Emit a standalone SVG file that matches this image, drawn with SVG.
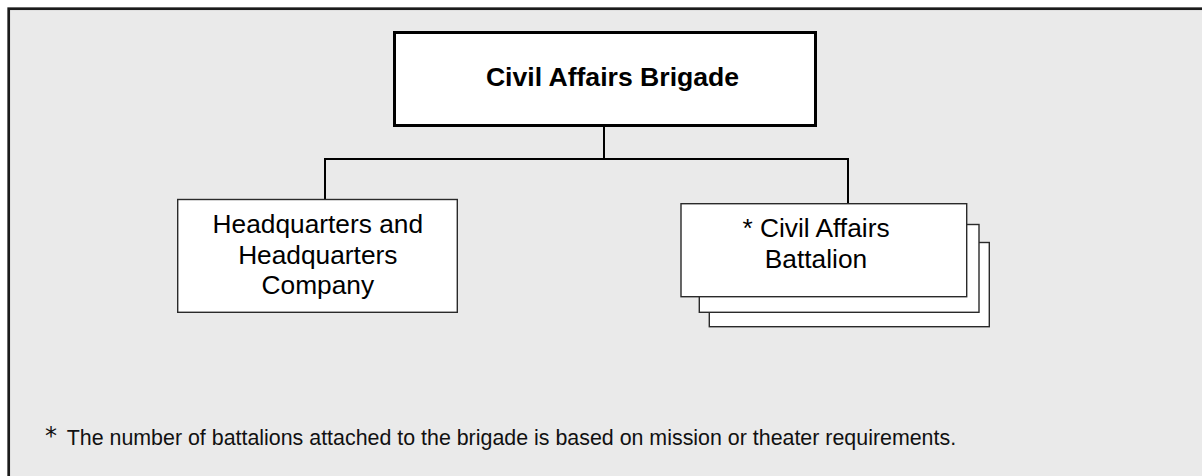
<svg xmlns="http://www.w3.org/2000/svg" width="1202" height="476" viewBox="0 0 1202 476">
  <style>
    text { font-family: "Liberation Sans", Arial, sans-serif; fill: #000; }
    .box { fill: #fff; stroke: #2a2a2a; stroke-width: 1.4; }
    .label { font-size: 26.3px; text-anchor: middle; }
    .title { font-size: 26.6px; font-weight: bold; text-anchor: middle; }
    .wire { fill: none; stroke: #000; stroke-width: 2; }
    .note { font-size: 21.4px; fill: #111; }
  </style>

  <!-- panel background, frame runs past the right and bottom edges -->
  <rect x="8.7" y="8.7" width="1210" height="490" fill="#eaeaea" stroke="#1c1c1c" stroke-width="2.7"/>

  <g id="connectors">
    <path class="wire" d="M604 126 V159"/>
    <path class="wire" d="M325 199 V159 H848 V204"/>
  </g>

  <g id="brigade">
    <rect x="394.5" y="32.5" width="421" height="93" fill="#fff" stroke="#000" stroke-width="3"/>
    <text class="title" x="612.5" y="86">Civil Affairs Brigade</text>
  </g>

  <g id="hhc">
    <rect class="box" x="177.7" y="199.5" width="279.6" height="112.8"/>
    <text class="label" x="317.8" y="233.3">Headquarters and</text>
    <text class="label" x="317.8" y="263.5">Headquarters</text>
    <text class="label" x="317.8" y="294">Company</text>
  </g>

  <g id="battalion">
    <rect class="box" x="709.3" y="242.5" width="280" height="84.2"/>
    <rect class="box" x="699.3" y="224.5" width="279.7" height="87.8"/>
    <rect class="box" x="681" y="203.7" width="285.7" height="93"/>
    <text class="label" x="816" y="237.3">* Civil Affairs</text>
    <text class="label" x="816" y="268.3">Battalion</text>
  </g>

  <g id="footnote">
    <text class="note" y="445"><tspan x="45" y="443.5" font-size="24px" font-family="'DejaVu Sans', sans-serif">*</tspan><tspan x="66.7" y="445">The number of battalions attached to the brigade is based on mission or theater requirements.</tspan></text>
  </g>
</svg>
